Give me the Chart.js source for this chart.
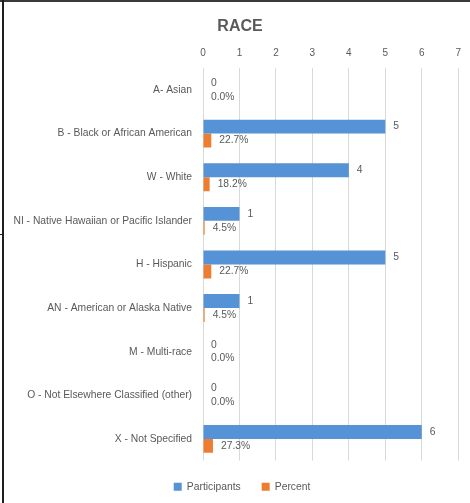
<!DOCTYPE html>
<html>
<head>
<meta charset="utf-8">
<script src="https://cdn.jsdelivr.net/npm/chart.js@4/dist/chart.umd.min.js"></script>
<style>
  html, body { margin: 0; padding: 0; background: #fff; }
  #frame { position: relative; width: 470px; height: 503px; }
  #frame .topline { position: absolute; left: 0; top: 0; width: 470px; height: 2px; background: #3a3a3a; }
  #frame .leftline { position: absolute; left: 2px; top: 0; width: 2px; height: 503px; background: #1e1e1e; }
  #frame .stub { position: absolute; left: 0; top: 234px; width: 3px; height: 1px; background: #1e1e1e; }
  #wrap { position: absolute; left: 0; top: 0; width: 470px; height: 503px; }
</style>
</head>
<body>
<div id="frame">
  <div id="wrap"><canvas id="raceChart"></canvas></div>
  <div class="topline"></div>
  <div class="leftline"></div>
  <div class="stub"></div>
</div>
<script>
/* chart data */
const raceLabels = [
  "A- Asian",
  "B - Black or African American",
  "W - White",
  "NI - Native Hawaiian or Pacific Islander",
  "H - Hispanic",
  "AN - American or Alaska Native",
  "M - Multi-race",
  "O - Not Elsewhere Classified (other)",
  "X - Not Specified"
];
const participants = [0, 5, 4, 1, 5, 1, 0, 0, 6];
const percent = [0, 0.227, 0.182, 0.045, 0.227, 0.045, 0, 0, 0.273];
const xTicks = [0, 1, 2, 3, 4, 5, 6, 7];

const textColor = "#595959";
const fontFamily = "'Liberation Sans', Arial, sans-serif";

// draws the value next to each bar end
const valueLabels = {
  id: "valueLabels",
  afterDatasetsDraw(chart) {
    const ctx = chart.ctx;
    ctx.save();
    ctx.font = "10.3px " + fontFamily;
    ctx.fillStyle = textColor;
    ctx.textBaseline = "middle";
    ctx.textAlign = "left";
    chart.data.datasets.forEach((ds, i) => {
      const meta = chart.getDatasetMeta(i);
      meta.data.forEach((bar, j) => {
        const v = ds.data[j];
        const txt = i === 1 ? (v * 100).toFixed(1) + "%" : String(v);
        ctx.fillText(txt, bar.x + 8, bar.y);
      });
    });
    ctx.restore();
  }
};

// title and legend in the original sit a bit right of the canvas centre
const boxShift = {
  id: "boxShift",
  afterLayout(chart) {
    const lg = chart.legend;
    if (lg) {
      lg.left += 10;
      lg.right += 10;
    }
    const tt = chart.titleBlock;
    if (tt) {
      tt.left += 8;
      tt.right += 8;
    }
  }
};

const config = {
  type: "bar",
  data: {
    labels: raceLabels,
    datasets: [
      {
        label: "Participants",
        data: participants,
        backgroundColor: "#5592d6",
        categoryPercentage: 0.64,
        barPercentage: 1.0
      },
      {
        label: "Percent",
        data: percent,
        backgroundColor: "#ed7d31",
        categoryPercentage: 0.64,
        barPercentage: 1.0
      }
    ]
  },
  options: {
    indexAxis: "y",
    responsive: true,
    maintainAspectRatio: false,
    animation: false,
    layout: { padding: { left: 4, right: 10, top: 0, bottom: 1 } },
    scales: {
      x: {
        position: "top",
        min: 0,
        max: 7,
        afterBuildTicks(scale) {
          scale.ticks = xTicks.map((v) => ({ value: v }));
        },
        afterFit(scale) {
          scale.height = 26;
        },
        grid: { color: "#d9d9d9", drawTicks: false },
        border: { display: false },
        ticks: {
          color: textColor,
          padding: 9,
          font: { size: 10, family: fontFamily }
        }
      },
      y: {
        afterFit(scale) {
          scale.width = 199;
        },
        grid: { display: false },
        border: { display: false },
        ticks: {
          color: textColor,
          padding: 3,
          autoSkip: false,
          font: { size: 10.3, family: fontFamily }
        }
      }
    },
    plugins: {
      title: {
        display: true,
        text: "RACE",
        color: textColor,
        font: { size: 16, weight: "bold", family: fontFamily },
        padding: { top: 17, bottom: 6 }
      },
      legend: {
        position: "bottom",
        labels: {
          color: textColor,
          boxWidth: 8,
          boxHeight: 8,
          padding: 21,
          font: { size: 10.3, family: fontFamily }
        }
      },
      tooltip: { enabled: false }
    }
  },
  plugins: [valueLabels, boxShift]
};

new Chart(document.getElementById("raceChart"), config);
</script>
</body>
</html>
